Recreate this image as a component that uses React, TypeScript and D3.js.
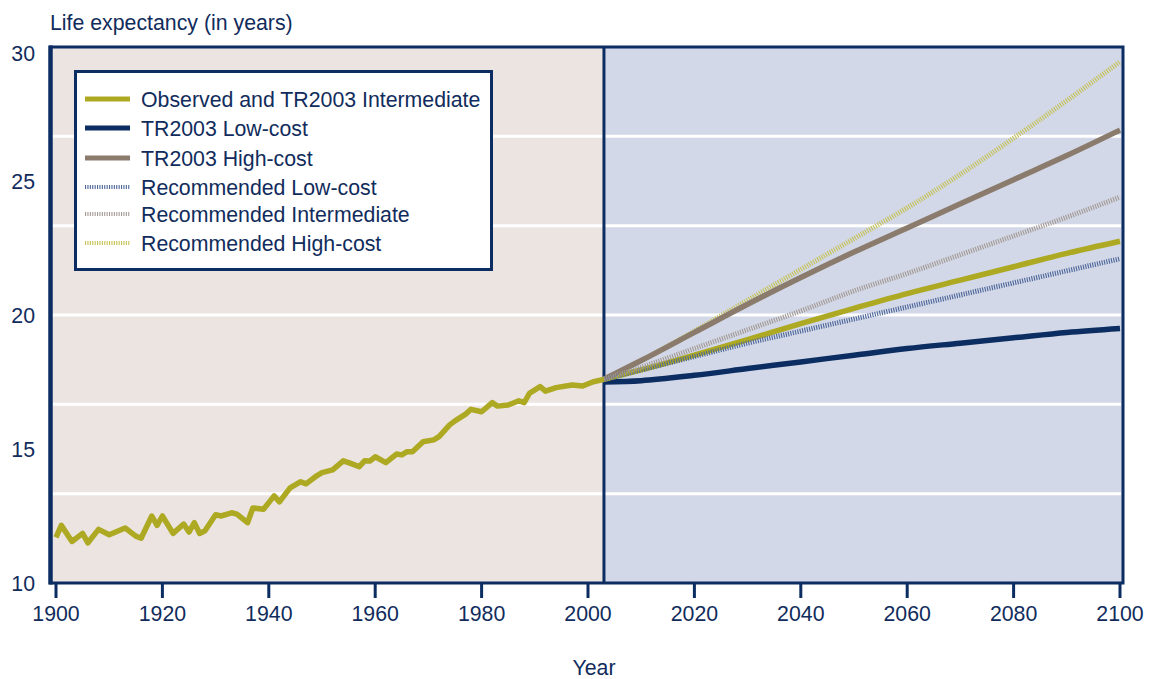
import React from "react";
import * as d3 from "d3";

// ---- Data ----
const histYears = [1900, 1901, 1903, 1905, 1906, 1908, 1910, 1913, 1915, 1916, 1918, 1919, 1920, 1922, 1924, 1925, 1926, 1927, 1928, 1930, 1931, 1933, 1934, 1936, 1937, 1939, 1940, 1941, 1942, 1944, 1946, 1947, 1949, 1950, 1952, 1954, 1955, 1957, 1958, 1959, 1960, 1962, 1964, 1965, 1966, 1967, 1969, 1971, 1972, 1974, 1975, 1977, 1978, 1980, 1982, 1983, 1985, 1987, 1988, 1989, 1991, 1992, 1994, 1997, 1999, 2001, 2003];
const histValues = [11.7, 12.15, 11.55, 11.85, 11.5, 12.0, 11.8, 12.05, 11.75, 11.67, 12.5, 12.15, 12.5, 11.85, 12.2, 11.9, 12.25, 11.85, 11.95, 12.55, 12.5, 12.62, 12.57, 12.25, 12.8, 12.75, 13.0, 13.25, 13.03, 13.55, 13.78, 13.7, 14.0, 14.12, 14.22, 14.56, 14.49, 14.34, 14.56, 14.55, 14.71, 14.49, 14.81, 14.78, 14.9, 14.9, 15.27, 15.34, 15.46, 15.9, 16.05, 16.3, 16.48, 16.39, 16.73, 16.6, 16.64, 16.8, 16.73, 17.08, 17.33, 17.16, 17.29, 17.39, 17.35, 17.51, 17.6];

const projYears = [2003, 2010, 2020, 2030, 2040, 2050, 2060, 2070, 2080, 2090, 2100];
const tr2003Intermediate = [17.6, 17.95, 18.5, 19.08, 19.68, 20.25, 20.8, 21.3, 21.8, 22.3, 22.75];
const tr2003LowCost = [17.5, 17.55, 17.75, 18.0, 18.25, 18.5, 18.75, 18.95, 19.15, 19.35, 19.5];
const tr2003HighCost = [17.6, 18.3, 19.35, 20.4, 21.4, 22.35, 23.25, 24.15, 25.05, 25.95, 26.9];
const recLowCost = [17.6, 17.95, 18.45, 18.95, 19.4, 19.85, 20.3, 20.75, 21.2, 21.65, 22.1];
const recIntermediate = [17.6, 18.05, 18.75, 19.45, 20.15, 20.9, 21.55, 22.25, 22.95, 23.65, 24.4];
const recHighCost = [17.6, 18.3, 19.4, 20.55, 21.7, 22.85, 24.0, 25.25, 26.6, 28.0, 29.45];

const xTicks = [1900, 1920, 1940, 1960, 1980, 2000, 2020, 2040, 2060, 2080, 2100];
const yTicks = [10, 15, 20, 25, 30];
const gridValues = [13.333, 16.667, 20, 23.333, 26.667];
const splitYear = 2003;

const legendLabels = [
  "Observed and TR2003 Intermediate",
  "TR2003 Low-cost",
  "TR2003 High-cost",
  "Recommended Low-cost",
  "Recommended Intermediate",
  "Recommended High-cost",
];

// ---- Styles ----
const NAVY = "#0c2d62";
const TEXT = "#112c5c";
const OLIVE = "#aea923";
const BROWN = "#8a7b6c";
const REC_LOW = "#4d6699";
const REC_INT = "#a39994";
const REC_HIGH = "#c6c256";
const FONT = "'Liberation Sans', Arial, Helvetica, sans-serif";
const FS = 21.3;

export default function App() {
  const W = 1152, H = 679;
  const x = d3.scaleLinear().domain([1900, 2100]).range([56, 1120]);
  const y = d3.scaleLinear().domain([10, 30]).range([583, 47]);
  const frameL = 50.5, frameR = 1123, frameT = 47, frameB = 583;

  const linePts = d3
    .line<[number, number]>()
    .x((d) => x(d[0]))
    .y((d) => y(d[1]));
  const smooth = d3
    .line<[number, number]>()
    .x((d) => x(d[0]))
    .y((d) => y(d[1]))
    .curve(d3.curveMonotoneX);

  const hist = histYears.map((yr, i) => [yr, histValues[i]] as [number, number]);
  const proj = (arr: number[]) => projYears.map((yr, i) => [yr, arr[i]] as [number, number]);

  const solidW = 5.5;
  const dotW = 5;
  const dash = "1.1 1.3";

  const series = [
    { label: legendLabels[0], color: OLIVE, dotted: false },
    { label: legendLabels[1], color: NAVY, dotted: false },
    { label: legendLabels[2], color: BROWN, dotted: false },
    { label: legendLabels[3], color: REC_LOW, dotted: true },
    { label: legendLabels[4], color: REC_INT, dotted: true },
    { label: legendLabels[5], color: REC_HIGH, dotted: true },
  ];
  const legendRowY = [99, 128, 158, 187, 214, 243];

  return (
    <svg
      width={W}
      height={H}
      style={{ position: "absolute", left: 0, top: 0, background: "#fff" }}
      fontFamily={FONT}
    >
      {/* backgrounds */}
      <rect x={frameL} y={frameT} width={x(splitYear) - frameL} height={frameB - frameT} fill="#ebe4e1" />
      <rect x={x(splitYear)} y={frameT} width={frameR - x(splitYear)} height={frameB - frameT} fill="#d2d8e7" />

      {/* grid */}
      {gridValues.map((g) => (
        <line key={g} x1={frameL} x2={frameR - 2} y1={y(g)} y2={y(g)} stroke="#fff" strokeWidth={3} />
      ))}

      {/* split line */}
      <line x1={x(splitYear)} x2={x(splitYear)} y1={frameT} y2={frameB} stroke={NAVY} strokeWidth={3} />

      {/* projections */}
      <path d={smooth(proj(tr2003LowCost)) || ""} fill="none" stroke={NAVY} strokeWidth={solidW} />
      <path d={smooth(proj(tr2003Intermediate)) || ""} fill="none" stroke={OLIVE} strokeWidth={solidW} />
      <path d={smooth(proj(recHighCost)) || ""} fill="none" stroke={REC_HIGH} strokeWidth={dotW} strokeDasharray={dash} />
      <path d={smooth(proj(tr2003HighCost)) || ""} fill="none" stroke={BROWN} strokeWidth={solidW} />
      <path d={smooth(proj(recLowCost)) || ""} fill="none" stroke={REC_LOW} strokeWidth={dotW} strokeDasharray={dash} />
      <path d={smooth(proj(recIntermediate)) || ""} fill="none" stroke={REC_INT} strokeWidth={dotW} strokeDasharray={dash} />

      {/* historical */}
      <path d={linePts(hist) || ""} fill="none" stroke={OLIVE} strokeWidth={solidW} strokeLinejoin="round" />

      {/* frame */}
      <rect x={frameL} y={frameT} width={frameR - frameL} height={frameB - frameT} fill="none" stroke={NAVY} strokeWidth={3} />
      <line x1={frameL} x2={frameL} y1={frameT - 1.5} y2={frameB + 1.5} stroke={NAVY} strokeWidth={4.5} />

      {/* x ticks */}
      {xTicks.map((t) => (
        <g key={t}>
          <line x1={x(t)} x2={x(t)} y1={frameB} y2={598} stroke={NAVY} strokeWidth={3} />
          <text x={x(t)} y={621} textAnchor="middle" fontSize={FS} fill={TEXT}>
            {t}
          </text>
        </g>
      ))}
      {/* y ticks */}
      {yTicks.map((t) => (
        <text key={t} x={35} y={Math.max(y(t), 53) + 7.5} textAnchor="end" fontSize={FS} fill={TEXT}>
          {t}
        </text>
      ))}

      <text x={50} y={30} fontSize={FS} fill={TEXT}>
        Life expectancy (in years)
      </text>
      <text x={594} y={675} textAnchor="middle" fontSize={FS} fill={TEXT}>
        Year
      </text>

      {/* legend */}
      <rect x={75.5} y={71.5} width={416} height={198} fill="#fff" stroke={NAVY} strokeWidth={3} />
      {series.map((s, i) => (
        <g key={s.label}>
          <line
            x1={85}
            x2={130}
            y1={legendRowY[i]}
            y2={legendRowY[i]}
            stroke={s.color}
            strokeWidth={s.dotted ? 4 : 5}
            strokeDasharray={s.dotted ? dash : undefined}
          />
          <text x={141} y={legendRowY[i] + 7.5} fontSize={FS} fill={TEXT}>
            {s.label}
          </text>
        </g>
      ))}
    </svg>
  );
}
